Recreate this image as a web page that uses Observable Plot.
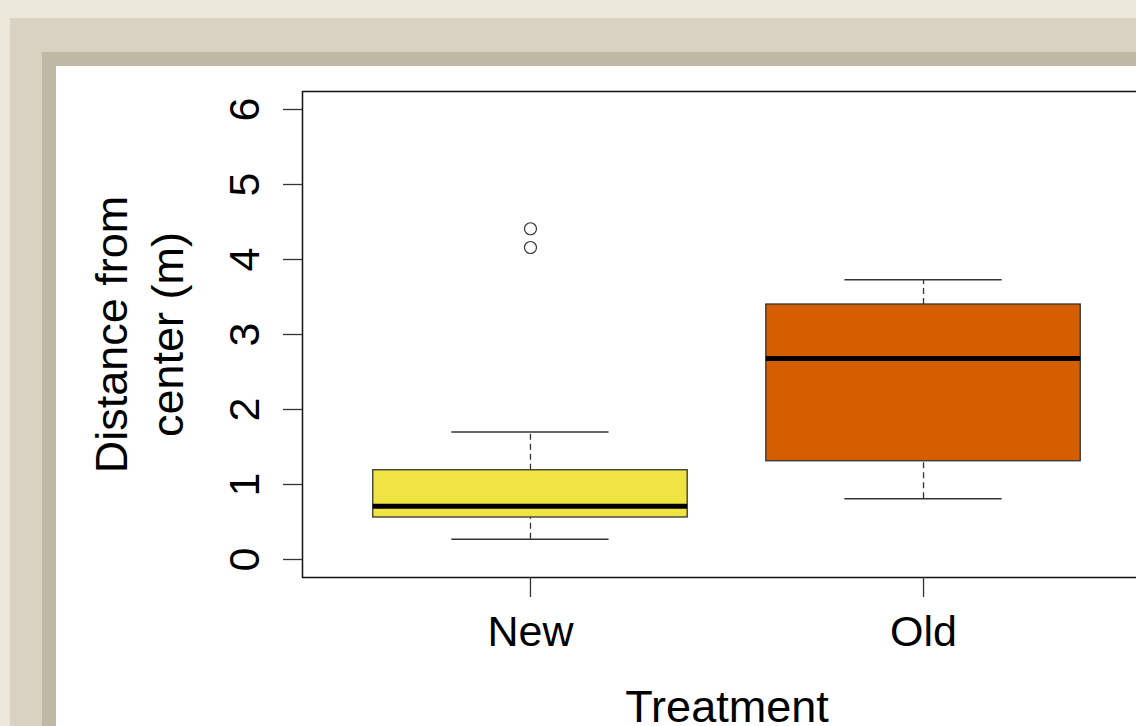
<!DOCTYPE html>
<html>
<head>
<meta charset="utf-8">
<script src="https://cdn.jsdelivr.net/npm/d3@7"></script>
<script src="https://cdn.jsdelivr.net/npm/@observablehq/plot@0.6"></script>
<style>
  html, body { margin: 0; padding: 0; width: 1136px; height: 726px; overflow: hidden; background: #ebe7db; }
  .band-outer { position: absolute; left: 10px; top: 18px; width: 1300px; height: 900px; background: #d8d2c2; }
  .band-inner { position: absolute; left: 42px; top: 52px; width: 1300px; height: 900px; background: #bfb8a5; }
  #chart { position: absolute; left: 56px; top: 66px; width: 1300px; height: 900px; background: #ffffff; }
  #chart svg { display: block; }
</style>
</head>
<body>
<div class="band-outer"></div>
<div class="band-inner"></div>
<div id="chart"></div>
<script>
// Box-plot summary per treatment group (distance from center, m)
const categories   = ["New", "Old"];
const lowerWhisker = [0.27, 0.81];
const lowerQuart   = [0.56, 1.31];
const medians      = [0.71, 2.68];
const upperQuart   = [1.19, 3.40];
const upperWhisker = [1.70, 3.73];
const boxColors    = ["#F0E442", "#D55E00"];

// Points beyond the whiskers
const outlierGroup  = ["New", "New"];
const outlierValues = [4.16, 4.41];

const yTicks = [0, 1, 2, 3, 4, 5, 6];
const xLabel = "Treatment";
const yLabel = "Distance from\ncenter (m)";

const boxes = categories.map((cat, i) => ({
  cat, x: i + 1,
  lo: lowerWhisker[i], q1: lowerQuart[i], med: medians[i],
  q3: upperQuart[i], hi: upperWhisker[i]
}));
const outliers = outlierGroup.map((cat, j) => ({ x: categories.indexOf(cat) + 1, y: outlierValues[j] }));

const halfBox = 0.4, halfCap = 0.2;
const ink = "#333";

const chart = Plot.plot({
  width: 1100,
  height: 660,
  marginLeft: 246,
  marginRight: 5,
  marginTop: 25,
  marginBottom: 149,
  style: {
    fontFamily: "'Liberation Sans', Arial, sans-serif",
    fontSize: "43px",
    color: "#000",
    background: "transparent",
    overflow: "visible"
  },
  x: { domain: [0.42, 2.58], label: null },
  y: { domain: [-0.24, 6.24], label: null },
  color: { domain: categories, range: boxColors },
  marks: [
    // dashed whiskers
    Plot.ruleX(boxes, { x: "x", y1: "q3", y2: "hi", stroke: ink, strokeWidth: 1.3, strokeDasharray: "6,4" }),
    Plot.ruleX(boxes, { x: "x", y1: "lo", y2: "q1", stroke: ink, strokeWidth: 1.3, strokeDasharray: "6,4" }),
    // whisker caps
    Plot.ruleY(boxes, { y: "hi", x1: d => d.x - halfCap, x2: d => d.x + halfCap, stroke: ink, strokeWidth: 1.3 }),
    Plot.ruleY(boxes, { y: "lo", x1: d => d.x - halfCap, x2: d => d.x + halfCap, stroke: ink, strokeWidth: 1.3 }),
    // interquartile boxes
    Plot.rect(boxes, { x1: d => d.x - halfBox, x2: d => d.x + halfBox, y1: "q1", y2: "q3", fill: "cat", stroke: ink, strokeWidth: 1.3 }),
    // medians
    Plot.ruleY(boxes, { y: "med", x1: d => d.x - halfBox, x2: d => d.x + halfBox, stroke: "#000", strokeWidth: 5 }),
    // outliers
    Plot.dot(outliers, { x: "x", y: "y", r: 6, fill: "none", stroke: ink, strokeWidth: 1.2 }),
    Plot.frame({ stroke: "#111", strokeWidth: 1.5 }),
    Plot.axisY(yTicks, { anchor: "left", tickSize: 19, tickPadding: 25, tickRotate: -90, stroke: ink, strokeWidth: 1.3, tickFormat: d => String(d) }),
    Plot.axisX([1, 2], { anchor: "bottom", tickSize: 20, tickPadding: 18, stroke: ink, strokeWidth: 1.3, tickFormat: d => categories[d - 1] }),
    // axis titles
    Plot.text([xLabel], { text: d => d, frameAnchor: "bottom", lineAnchor: "bottom", dy: 144, fontSize: 45 }),
    Plot.text([yLabel], { text: d => d, frameAnchor: "left", rotate: -90, textAnchor: "middle", lineAnchor: "bottom", lineHeight: 1.24, dx: -120, fontSize: 45 })
  ]
});

document.getElementById("chart").appendChild(chart);
</script>
</body>
</html>
